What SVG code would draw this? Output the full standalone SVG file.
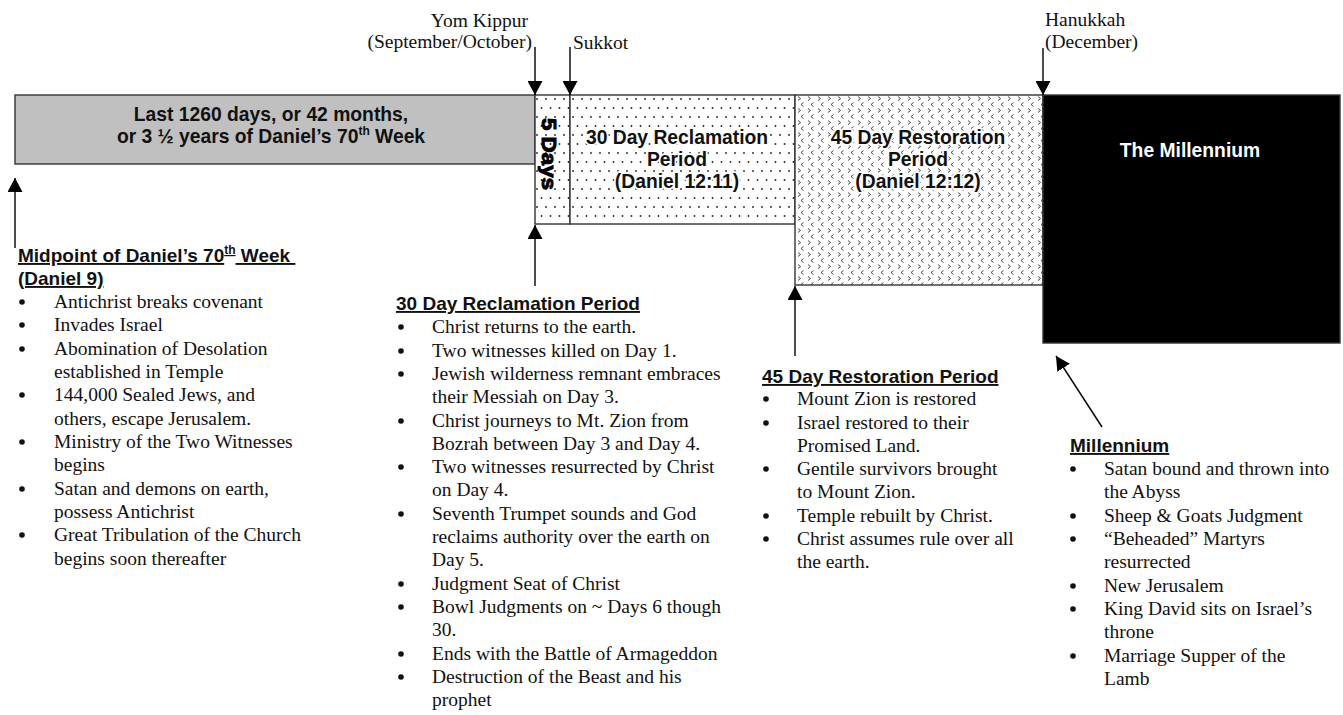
<svg xmlns="http://www.w3.org/2000/svg" width="1343" height="715" viewBox="0 0 1343 715">
<style>
.serif{font-family:"Liberation Serif","Times New Roman",serif;font-size:19.5px;fill:#111}
.head{font-family:"Liberation Sans",Arial,sans-serif;font-weight:bold;font-size:19px;fill:#111;text-decoration:underline}
.boxt{font-family:"Liberation Sans",Arial,sans-serif;font-weight:bold;font-size:19.3px;fill:#111;text-anchor:middle}
.halo{stroke:#fff;stroke-width:3.5px;stroke-linejoin:round;paint-order:stroke}
.conn{stroke:#000;stroke-width:1.4;fill:none;marker-end:url(#ah)}
.bul{fill:#111}
</style>
<defs>
<marker id="ah" markerUnits="userSpaceOnUse" markerWidth="15" markerHeight="15" refX="14" refY="7.5" orient="auto">
<path d="M0,0 L14,7.5 L0,15 Z" fill="#000"/>
</marker>
<pattern id="dots" patternUnits="userSpaceOnUse" width="9" height="18" x="535" y="95">
<rect width="9" height="18" fill="#fff"/>
<circle cx="2" cy="4" r="0.9" fill="#222"/>
<circle cx="6.5" cy="13" r="0.9" fill="#222"/>
</pattern>
<pattern id="chev" patternUnits="userSpaceOnUse" width="10" height="12" x="795" y="95">
<rect width="10" height="12" fill="#fff"/>
<path d="M3,1.5 L5.5,3.5 L3,5.5 M8.5,7.5 L6,9.5 L8.5,11.5" stroke="#333" stroke-width="0.9" fill="none"/>
</pattern>
</defs>
<rect width="1343" height="715" fill="#fff"/>

<g id="bar-last1260">
<rect x="15" y="95" width="520" height="69" fill="#c0c0c0" stroke="#333" stroke-width="1.4"/>
<text class="boxt" x="271" y="121">Last 1260 days, or 42 months,</text>
<text class="boxt" x="271" y="143">or 3 ½ years of Daniel’s 70<tspan font-size="12" dy="-8">th</tspan><tspan dy="8"> Week</tspan></text>
</g>

<g id="box-5days">
<rect x="535" y="95" width="35" height="129" fill="url(#dots)" stroke="#333" stroke-width="1.4"/>
<text transform="translate(549,154) rotate(90)" x="0" y="7" font-family="'Liberation Sans',Arial,sans-serif" font-weight="bold" font-size="21" text-anchor="middle" textLength="72" lengthAdjust="spacingAndGlyphs" fill="#000" stroke="#000" stroke-width="1">5 Days</text>
</g>

<g id="box-30day">
<rect x="570" y="95" width="225" height="129" fill="url(#dots)" stroke="#333" stroke-width="1.4"/>
<text class="boxt halo" x="677" y="144">30 Day Reclamation</text>
<text class="boxt halo" x="677" y="166">Period</text>
<text class="boxt halo" x="677" y="188">(Daniel 12:11)</text>
</g>

<g id="box-45day">
<rect x="795" y="95" width="248" height="190" fill="url(#chev)" stroke="#333" stroke-width="1.4"/>
<text class="boxt halo" x="918" y="144">45 Day Restoration</text>
<text class="boxt halo" x="918" y="166">Period</text>
<text class="boxt halo" x="918" y="188">(Daniel 12:12)</text>
</g>

<g id="box-millennium">
<rect x="1043" y="95" width="297" height="248" fill="#000" stroke="#333" stroke-width="1.4"/>
<text class="boxt" x="1190" y="157" style="fill:#fff">The Millennium</text>
</g>

<g id="label-yom-kippur">
<text class="serif" x="528" y="27" text-anchor="end">Yom Kippur</text>
<text class="serif" x="532" y="48" text-anchor="end">(September/October)</text>
</g>
<g id="label-sukkot">
<text class="serif" x="573" y="49">Sukkot</text>
</g>
<g id="label-hanukkah">
<text class="serif" x="1045" y="26">Hanukkah</text>
<text class="serif" x="1045" y="48">(December)</text>
</g>

<g id="connectors">
<line class="conn" x1="535" y1="47" x2="535" y2="95"/>
<line class="conn" x1="570" y1="47" x2="570" y2="95"/>
<line class="conn" x1="1043" y1="48" x2="1043" y2="95"/>
<line class="conn" x1="15" y1="248" x2="15" y2="178"/>
<line class="conn" x1="535" y1="286" x2="535" y2="225"/>
<line class="conn" x1="795" y1="356" x2="795" y2="286"/>
<line class="conn" x1="1102" y1="427" x2="1056" y2="356"/>
</g>

<g id="note-midpoint">
<text class="head" x="18" y="262" xml:space="preserve">Midpoint of Daniel’s 70<tspan font-size="12" dy="-8">th</tspan><tspan dy="8"> Week </tspan></text>
<text class="head" x="18" y="285">(Daniel 9)</text>
<circle class="bul" cx="22" cy="302" r="2.8"/><text class="serif" x="54" y="308">Antichrist breaks covenant</text>
<circle class="bul" cx="22" cy="325" r="2.8"/><text class="serif" x="54" y="331">Invades Israel</text>
<circle class="bul" cx="22" cy="349" r="2.8"/><text class="serif" x="54" y="355">Abomination of Desolation</text>
<text class="serif" x="54" y="378">established in Temple</text>
<circle class="bul" cx="22" cy="395" r="2.8"/><text class="serif" x="54" y="401">144,000 Sealed Jews, and</text>
<text class="serif" x="54" y="425">others, escape Jerusalem.</text>
<circle class="bul" cx="22" cy="442" r="2.8"/><text class="serif" x="54" y="448">Ministry of the Two Witnesses</text>
<text class="serif" x="54" y="471">begins</text>
<circle class="bul" cx="22" cy="489" r="2.8"/><text class="serif" x="54" y="495">Satan and demons on earth,</text>
<text class="serif" x="54" y="518">possess Antichrist</text>
<circle class="bul" cx="22" cy="535" r="2.8"/><text class="serif" x="54" y="541">Great Tribulation of the Church</text>
<text class="serif" x="54" y="565">begins soon thereafter</text>
</g>

<g id="note-30day">
<text class="head" x="396" y="310">30 Day Reclamation Period</text>
<circle class="bul" cx="401" cy="327" r="2.8"/><text class="serif" x="432" y="333">Christ returns to the earth.</text>
<circle class="bul" cx="401" cy="351" r="2.8"/><text class="serif" x="432" y="357">Two witnesses killed on Day 1.</text>
<circle class="bul" cx="401" cy="374" r="2.8"/><text class="serif" x="432" y="380">Jewish wilderness remnant embraces</text>
<text class="serif" x="432" y="403">their Messiah on Day 3.</text>
<circle class="bul" cx="401" cy="421" r="2.8"/><text class="serif" x="432" y="427">Christ journeys to Mt. Zion from</text>
<text class="serif" x="432" y="450">Bozrah between Day 3 and Day 4.</text>
<circle class="bul" cx="401" cy="467" r="2.8"/><text class="serif" x="432" y="473">Two witnesses resurrected by Christ</text>
<text class="serif" x="432" y="496">on Day 4.</text>
<circle class="bul" cx="401" cy="514" r="2.8"/><text class="serif" x="432" y="520">Seventh Trumpet sounds and God</text>
<text class="serif" x="432" y="543">reclaims authority over the earth on</text>
<text class="serif" x="432" y="566">Day 5.</text>
<circle class="bul" cx="401" cy="584" r="2.8"/><text class="serif" x="432" y="590">Judgment Seat of Christ</text>
<circle class="bul" cx="401" cy="607" r="2.8"/><text class="serif" x="432" y="613">Bowl Judgments on ~ Days 6 though</text>
<text class="serif" x="432" y="636">30.</text>
<circle class="bul" cx="401" cy="654" r="2.8"/><text class="serif" x="432" y="660">Ends with the Battle of Armageddon</text>
<circle class="bul" cx="401" cy="677" r="2.8"/><text class="serif" x="432" y="683">Destruction of the Beast and his</text>
<text class="serif" x="432" y="706">prophet</text>
</g>

<g id="note-45day">
<text class="head" x="762" y="383">45 Day Restoration Period</text>
<circle class="bul" cx="766" cy="399" r="2.8"/><text class="serif" x="797" y="405">Mount Zion is restored</text>
<circle class="bul" cx="766" cy="423" r="2.8"/><text class="serif" x="797" y="429">Israel restored to their</text>
<text class="serif" x="797" y="452">Promised Land.</text>
<circle class="bul" cx="766" cy="469" r="2.8"/><text class="serif" x="797" y="475">Gentile survivors brought</text>
<text class="serif" x="797" y="498">to Mount Zion.</text>
<circle class="bul" cx="766" cy="516" r="2.8"/><text class="serif" x="797" y="522">Temple rebuilt by Christ.</text>
<circle class="bul" cx="766" cy="539" r="2.8"/><text class="serif" x="797" y="545">Christ assumes rule over all</text>
<text class="serif" x="797" y="568">the earth.</text>
</g>

<g id="note-millennium">
<text class="head" x="1070" y="452">Millennium</text>
<circle class="bul" cx="1073" cy="469" r="2.8"/><text class="serif" x="1104" y="475">Satan bound and thrown into</text>
<text class="serif" x="1104" y="498">the Abyss</text>
<circle class="bul" cx="1073" cy="516" r="2.8"/><text class="serif" x="1104" y="522">Sheep &amp; Goats Judgment</text>
<circle class="bul" cx="1073" cy="539" r="2.8"/><text class="serif" x="1104" y="545">“Beheaded” Martyrs</text>
<text class="serif" x="1104" y="568">resurrected</text>
<circle class="bul" cx="1073" cy="586" r="2.8"/><text class="serif" x="1104" y="592">New Jerusalem</text>
<circle class="bul" cx="1073" cy="609" r="2.8"/><text class="serif" x="1104" y="615">King David sits on Israel’s</text>
<text class="serif" x="1104" y="638">throne</text>
<circle class="bul" cx="1073" cy="656" r="2.8"/><text class="serif" x="1104" y="662">Marriage Supper of the</text>
<text class="serif" x="1104" y="685">Lamb</text>
</g>
</svg>
